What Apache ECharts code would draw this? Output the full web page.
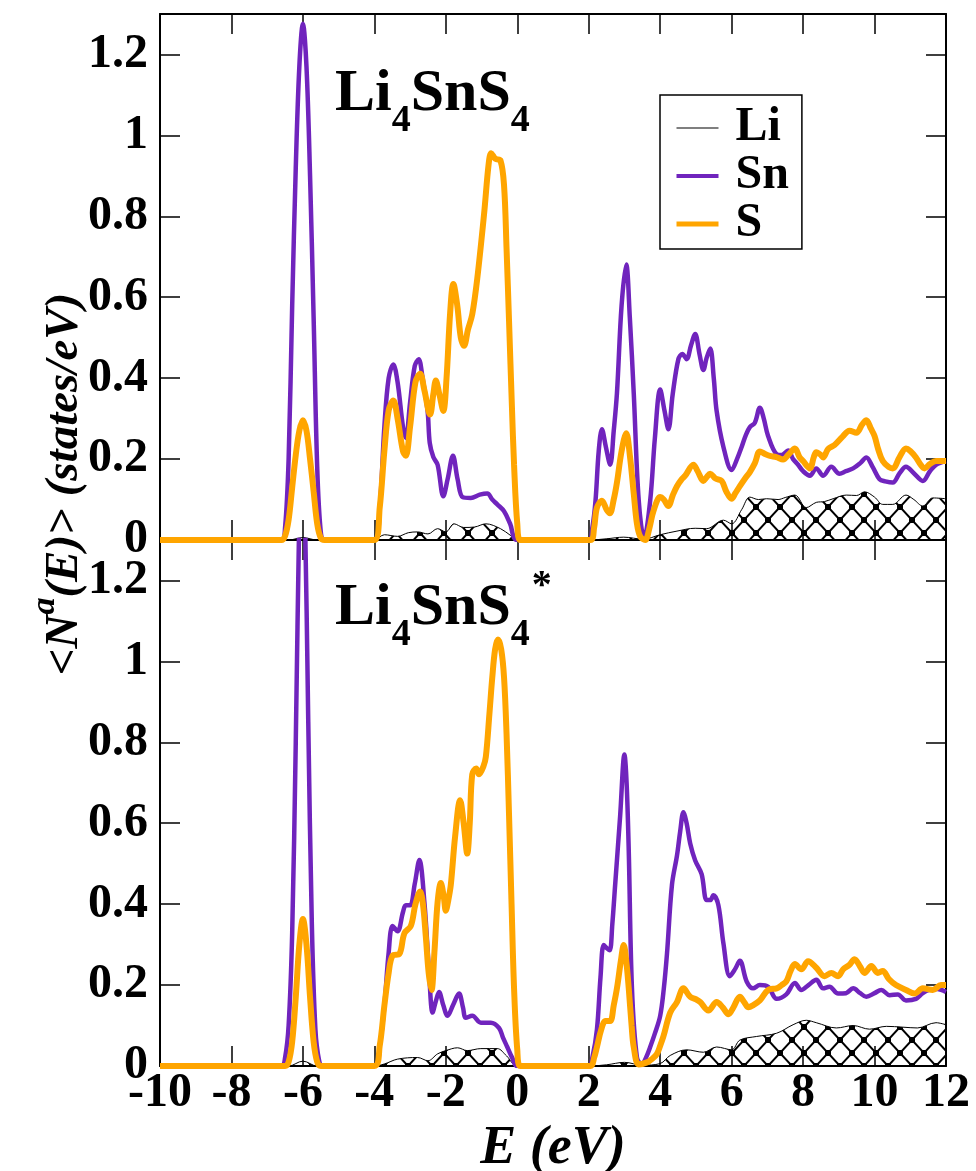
<!DOCTYPE html>
<html>
<head>
<meta charset="utf-8">
<script src="https://cdn.jsdelivr.net/npm/echarts@6.0.0/dist/echarts.min.js"></script>
<style>
  html, body { margin: 0; padding: 0; background: #fff; }
  #chart { width: 976px; height: 1171px; }
</style>
</head>
<body>
<div id="chart"></div>
<script>
// projected DOS, [E (eV), states/eV]
const liTop = [[-10,0],[-6.4,0],[-6.0,0.006],[-5.6,0],[-4.0,0],[-3.72,0.013],[-3.35,0.009],[-3.05,0.018],[-2.79,0.02],[-2.5,0.015],[-2.23,0.028],[-2.0,0.02],[-1.77,0.04],[-1.5,0.031],[-1.2,0.032],[-0.88,0.04],[-0.47,0.028],[-0.2,0.012],[0,0],
  [2.0,0],[2.5,0.003],[2.98,0.007],[3.53,0.002],[4.0,0.013],[4.47,0.022],[4.98,0.029],[5.3,0.028],[5.77,0.049],[6.0,0.04],[6.28,0.075],[6.51,0.106],[6.75,0.1],[6.98,0.102],[7.3,0.1],[7.5,0.105],[7.77,0.111],[8.09,0.08],[8.37,0.093],[8.6,0.095],[8.84,0.102],[9.21,0.111],[9.5,0.11],[9.72,0.119],[10.0,0.106],[10.23,0.088],[10.51,0.088],[10.88,0.111],[11.1,0.1],[11.35,0.084],[11.63,0.104],[12.0,0.102]];
const snTop = [[-10,0],[-6.6,0],[-6.5,0.03],[-6.4,0.2],[-6.3,0.58],[-6.2,0.92],[-6.1,1.17],[-6.0,1.276],[-5.9,1.17],[-5.8,0.9],[-5.7,0.55],[-5.6,0.18],[-5.5,0.02],[-5.4,0],
  [-4.0,0],[-3.85,0.08],[-3.72,0.28],[-3.6,0.4],[-3.47,0.434],[-3.35,0.39],[-3.2,0.28],[-3.12,0.252],[-3.0,0.34],[-2.87,0.43],[-2.76,0.447],[-2.65,0.4],[-2.51,0.319],[-2.45,0.24],[-2.35,0.205],[-2.23,0.186],[-2.07,0.108],[-1.95,0.15],[-1.8,0.208],[-1.67,0.15],[-1.53,0.106],[-1.3,0.104],[-1.05,0.112],[-0.84,0.115],[-0.7,0.1],[-0.56,0.088],[-0.37,0.071],[-0.2,0.04],[0,0],
  [2.0,0],[2.1,0.03],[2.19,0.097],[2.28,0.22],[2.37,0.274],[2.48,0.23],[2.6,0.186],[2.7,0.27],[2.79,0.363],[2.92,0.58],[3.05,0.681],[3.15,0.55],[3.26,0.363],[3.4,0.097],[3.55,0.004],[3.72,0.097],[3.85,0.25],[4.0,0.372],[4.12,0.32],[4.23,0.274],[4.35,0.36],[4.51,0.447],[4.62,0.46],[4.74,0.447],[4.86,0.48],[4.98,0.509],[5.1,0.46],[5.21,0.42],[5.3,0.45],[5.4,0.473],[5.5,0.4],[5.58,0.319],[5.77,0.23],[6.0,0.173],[6.15,0.2],[6.28,0.23],[6.4,0.26],[6.51,0.279],[6.65,0.29],[6.79,0.327],[6.9,0.3],[7.02,0.257],[7.26,0.212],[7.4,0.21],[7.58,0.221],[7.72,0.2],[7.86,0.186],[8.0,0.17],[8.19,0.159],[8.37,0.177],[8.56,0.159],[8.79,0.181],[9.02,0.164],[9.2,0.17],[9.4,0.177],[9.6,0.19],[9.77,0.204],[9.95,0.18],[10.14,0.15],[10.3,0.145],[10.51,0.142],[10.7,0.165],[10.88,0.181],[11.1,0.165],[11.35,0.146],[11.55,0.17],[11.72,0.186],[12.0,0.195]];
const sTop = [[-10,0],[-6.6,0],[-6.5,0.01],[-6.4,0.05],[-6.3,0.13],[-6.2,0.21],[-6.1,0.27],[-6.0,0.296],[-5.9,0.27],[-5.8,0.2],[-5.7,0.12],[-5.6,0.04],[-5.5,0.005],[-5.4,0],
  [-4.0,0],[-3.85,0.08],[-3.72,0.22],[-3.6,0.32],[-3.47,0.345],[-3.35,0.3],[-3.2,0.22],[-3.12,0.208],[-3.0,0.28],[-2.85,0.39],[-2.72,0.411],[-2.6,0.37],[-2.44,0.31],[-2.35,0.36],[-2.28,0.394],[-2.18,0.36],[-2.07,0.319],[-1.98,0.4],[-1.88,0.56],[-1.79,0.633],[-1.68,0.58],[-1.58,0.5],[-1.49,0.48],[-1.38,0.52],[-1.26,0.558],[-1.12,0.646],[-0.93,0.805],[-0.8,0.93],[-0.73,0.956],[-0.61,0.942],[-0.47,0.938],[-0.37,0.876],[-0.3,0.72],[-0.23,0.54],[-0.15,0.33],[-0.09,0.186],[0,0.04],[0.09,0],
  [2.05,0],[2.15,0.03],[2.23,0.08],[2.37,0.097],[2.5,0.075],[2.59,0.066],[2.7,0.1],[2.79,0.142],[2.92,0.22],[3.05,0.264],[3.15,0.21],[3.26,0.115],[3.35,0.04],[3.44,0.009],[3.58,0],[3.7,0.03],[3.81,0.071],[4.0,0.106],[4.1,0.1],[4.23,0.084],[4.35,0.11],[4.47,0.133],[4.6,0.15],[4.7,0.159],[4.93,0.186],[5.05,0.17],[5.21,0.146],[5.3,0.155],[5.4,0.164],[5.55,0.152],[5.72,0.146],[5.85,0.12],[6.0,0.102],[6.1,0.115],[6.23,0.133],[6.4,0.155],[6.51,0.168],[6.65,0.19],[6.79,0.219],[6.95,0.212],[7.07,0.208],[7.25,0.205],[7.44,0.199],[7.6,0.212],[7.77,0.226],[7.9,0.205],[8.0,0.195],[8.19,0.177],[8.3,0.205],[8.37,0.217],[8.5,0.21],[8.56,0.204],[8.7,0.225],[8.88,0.235],[9.1,0.255],[9.3,0.27],[9.49,0.265],[9.65,0.285],[9.77,0.296],[9.9,0.275],[10.0,0.257],[10.1,0.225],[10.23,0.195],[10.4,0.18],[10.51,0.177],[10.7,0.205],[10.88,0.226],[11.0,0.22],[11.16,0.204],[11.3,0.185],[11.4,0.177],[11.55,0.188],[11.72,0.195],[12.0,0.195]];

const liBot = [[-10,0],[-6.4,0],[-6.0,0.012],[-5.6,0],[-4.0,0],[-3.72,0.005],[-3.35,0.017],[-2.79,0.021],[-2.5,0.013],[-2.23,0.03],[-2.0,0.038],[-1.67,0.045],[-1.4,0.038],[-1.02,0.043],[-0.56,0.043],[-0.3,0.025],[0,0],
  [2.0,0],[2.5,0.003],[3.0,0.009],[3.5,0.002],[4.0,0.006],[4.28,0.026],[4.74,0.04],[5.21,0.034],[5.58,0.047],[6.0,0.04],[6.23,0.064],[6.7,0.073],[7.26,0.081],[7.72,0.102],[8.09,0.113],[8.37,0.107],[8.93,0.094],[9.4,0.1],[9.86,0.091],[10.33,0.098],[10.79,0.096],[11.2,0.094],[11.72,0.107],[12.0,0.102]];
const snBot = [[-10,0],[-6.6,0],[-6.5,0.02],[-6.4,0.1],[-6.3,0.33],[-6.2,0.8],[-6.1,1.37],[-6.03,1.59],[-5.95,1.4],[-5.85,0.85],[-5.75,0.35],[-5.65,0.09],[-5.55,0.015],[-5.45,0],
  [-4.0,0],[-3.85,0.05],[-3.72,0.149],[-3.6,0.28],[-3.49,0.346],[-3.35,0.333],[-3.2,0.38],[-3.12,0.397],[-3.0,0.397],[-2.87,0.45],[-2.74,0.509],[-2.6,0.405],[-2.47,0.235],[-2.37,0.132],[-2.28,0.16],[-2.19,0.183],[-2.07,0.15],[-1.95,0.124],[-1.8,0.15],[-1.63,0.179],[-1.52,0.145],[-1.44,0.119],[-1.26,0.124],[-1.02,0.107],[-0.74,0.107],[-0.51,0.094],[-0.4,0.07],[-0.28,0.047],[-0.14,0.02],[0,0],
  [2.0,0],[2.1,0.02],[2.23,0.09],[2.33,0.22],[2.42,0.299],[2.52,0.29],[2.59,0.286],[2.66,0.35],[2.74,0.448],[2.88,0.619],[3.0,0.77],[3.06,0.7],[3.12,0.533],[3.21,0.192],[3.35,0.021],[3.49,0.004],[3.6,0.02],[3.72,0.047],[3.85,0.08],[4.0,0.124],[4.1,0.19],[4.19,0.277],[4.33,0.448],[4.47,0.52],[4.56,0.58],[4.65,0.627],[4.74,0.6],[4.84,0.55],[4.98,0.508],[5.16,0.474],[5.3,0.41],[5.4,0.41],[5.49,0.422],[5.63,0.397],[5.77,0.303],[5.95,0.222],[6.1,0.24],[6.23,0.26],[6.42,0.209],[6.6,0.192],[6.79,0.2],[7.02,0.196],[7.26,0.166],[7.53,0.177],[7.77,0.205],[7.95,0.188],[8.15,0.2],[8.37,0.213],[8.56,0.192],[8.74,0.196],[8.98,0.179],[9.2,0.18],[9.4,0.192],[9.6,0.18],[9.77,0.171],[10.0,0.18],[10.19,0.188],[10.42,0.175],[10.65,0.177],[10.88,0.162],[11.16,0.166],[11.35,0.18],[11.53,0.188],[11.75,0.19],[12.0,0.183]];
const sBot = [[-10,0],[-6.5,0],[-6.4,0.01],[-6.3,0.06],[-6.2,0.17],[-6.1,0.3],[-6.0,0.363],[-5.9,0.3],[-5.8,0.17],[-5.7,0.06],[-5.6,0.01],[-5.5,0],
  [-4.0,0],[-3.85,0.05],[-3.72,0.149],[-3.6,0.23],[-3.49,0.273],[-3.3,0.277],[-3.16,0.328],[-2.98,0.346],[-2.85,0.4],[-2.72,0.431],[-2.64,0.4],[-2.56,0.32],[-2.48,0.23],[-2.4,0.188],[-2.32,0.28],[-2.23,0.405],[-2.14,0.452],[-2.06,0.42],[-2.0,0.384],[-1.93,0.41],[-1.86,0.448],[-1.74,0.567],[-1.6,0.657],[-1.5,0.6],[-1.4,0.525],[-1.33,0.6],[-1.26,0.721],[-1.15,0.735],[-1.07,0.721],[-0.95,0.74],[-0.88,0.764],[-0.78,0.87],[-0.7,0.96],[-0.62,1.03],[-0.54,1.054],[-0.45,1.03],[-0.37,0.96],[-0.3,0.82],[-0.23,0.619],[-0.16,0.4],[-0.09,0.192],[0,0.04],[0.09,0],
  [2.05,0],[2.15,0.02],[2.23,0.047],[2.35,0.09],[2.47,0.111],[2.6,0.111],[2.7,0.15],[2.79,0.192],[2.9,0.26],[2.98,0.299],[3.05,0.26],[3.12,0.192],[3.2,0.1],[3.26,0.047],[3.4,0.004],[3.63,0.009],[3.78,0.018],[3.91,0.03],[4.0,0.05],[4.09,0.073],[4.28,0.132],[4.47,0.158],[4.65,0.192],[4.84,0.171],[5.0,0.165],[5.12,0.158],[5.35,0.137],[5.58,0.158],[5.75,0.145],[5.91,0.128],[6.05,0.145],[6.23,0.171],[6.35,0.158],[6.47,0.145],[6.6,0.15],[6.79,0.162],[7.02,0.188],[7.26,0.192],[7.4,0.2],[7.53,0.209],[7.65,0.235],[7.77,0.252],[7.95,0.239],[8.14,0.259],[8.37,0.243],[8.6,0.222],[8.79,0.23],[8.98,0.222],[9.12,0.239],[9.3,0.25],[9.44,0.264],[9.6,0.245],[9.72,0.23],[9.91,0.247],[10.09,0.23],[10.23,0.235],[10.4,0.215],[10.6,0.2],[10.88,0.188],[11.12,0.179],[11.35,0.192],[11.63,0.188],[11.86,0.2],[12.0,0.2]];

const xTicks = { min: -10, max: 12, step: 2 };
const yTicks = { min: 0, max: 1.3, step: 0.2 };

const FONT = 'Liberation Serif';
const PURPLE = '#7024bd';
const ORANGE = '#ffa500';

// cross-hatch with black squares at the crossings, like the xmgrace fill
function hatch() {
  const w = 24, h = 26;
  const c = document.createElement('canvas');
  c.width = w; c.height = h;
  const g = c.getContext('2d');
  g.strokeStyle = '#000';
  g.lineWidth = 2;
  g.beginPath();
  g.moveTo(0, 0); g.lineTo(w, h);
  g.moveTo(w, 0); g.lineTo(0, h);
  g.stroke();
  g.fillStyle = '#000';
  g.fillRect(w / 2 - 3, h / 2 - 3, 6, 6);
  [[0, 0], [w, 0], [0, h], [w, h]].forEach(p => g.fillRect(p[0] - 3, p[1] - 3, 6, 6));
  return c;
}
const hatchImg = hatch();

function xAx(grid, pos, labels) {
  return {
    type: 'value', gridIndex: grid, position: pos,
    min: xTicks.min, max: xTicks.max, interval: xTicks.step,
    axisLine: { show: true, onZero: false, lineStyle: { color: '#000', width: 2 } },
    axisTick: { show: true, inside: true, length: 20, lineStyle: { color: '#000', width: 1.5 } },
    axisLabel: { show: labels, margin: 4, color: '#000', fontFamily: FONT, fontWeight: 'bold', fontSize: 48 },
    splitLine: { show: false }
  };
}
function yAx(grid, pos, labels) {
  return {
    type: 'value', gridIndex: grid, position: pos,
    min: yTicks.min, max: yTicks.max, interval: yTicks.step,
    axisLine: { show: true, onZero: false, lineStyle: { color: '#000', width: 2 } },
    axisTick: { show: true, inside: true, length: 20, lineStyle: { color: '#000', width: 1.5 } },
    axisLabel: { show: labels, showMaxLabel: false, margin: 12, color: '#000', fontFamily: FONT, fontWeight: 'bold', fontSize: 48,
      formatter: v => (Math.abs(v - 1.3) < 1e-6 ? '' : String(Math.round(v * 10) / 10)) },
    splitLine: { show: false }
  };
}

function series(name, data, ax, color, width, area) {
  const s = {
    name, type: 'line', data, xAxisIndex: ax, yAxisIndex: ax,
    smooth: 0.35, showSymbol: false, symbol: 'none', animation: false,
    lineStyle: { color, width }, itemStyle: { color }
  };
  if (area) s.areaStyle = { color: { image: hatchImg, repeat: 'repeat' }, opacity: 1 };
  return s;
}

const titleRich = {
  m: { fontFamily: FONT, fontWeight: 'bold', fontSize: 60, lineHeight: 70, padding: [16, 0, 0, 0], verticalAlign: 'top', color: '#000' },
  s: { fontFamily: FONT, fontWeight: 'bold', fontSize: 38, lineHeight: 38, padding: [54, 0, 0, 0], verticalAlign: 'top', color: '#000' },
  a: { fontFamily: FONT, fontWeight: 'bold', fontSize: 40, lineHeight: 40, padding: [5, 0, 0, 2], verticalAlign: 'top', color: '#000' }
};
const axRich = {
  i: { fontFamily: FONT, fontWeight: 'bold', fontStyle: 'italic', fontSize: 47, lineHeight: 54, padding: [13, 0, 0, 0], verticalAlign: 'top', color: '#000' },
  u: { fontFamily: FONT, fontWeight: 'bold', fontStyle: 'italic', fontSize: 34, lineHeight: 32, verticalAlign: 'top', color: '#000' }
};

const chart = echarts.init(document.getElementById('chart'));
chart.setOption({
  backgroundColor: '#fff',
  animation: false,
  grid: [
    { left: 160, top: 14, width: 786, height: 526 },
    { left: 160, top: 540, width: 786, height: 526 }
  ],
  xAxis: [xAx(0, 'bottom', false), xAx(0, 'top', false), xAx(1, 'bottom', true), xAx(1, 'top', false)],
  yAxis: [yAx(0, 'left', true), yAx(0, 'right', false), yAx(1, 'left', true), yAx(1, 'right', false)],
  legend: {
    left: 660, top: 95, orient: 'vertical',
    data: [
      { name: 'Li', lineStyle: { width: 1.2 } },
      { name: 'Sn', lineStyle: { width: 4 } },
      { name: 'S', lineStyle: { width: 5 } }
    ],
    itemWidth: 42, itemHeight: 2, itemGap: 0,
    itemStyle: { opacity: 0 },
    padding: [9, 13, 1, 14],
    borderColor: '#000', borderWidth: 1.5, borderRadius: 0, backgroundColor: '#fff',
    textStyle: { fontFamily: FONT, fontWeight: 'bold', fontSize: 48, lineHeight: 42, color: '#000', padding: [0, 0, 0, 12] }
  },
  graphic: [
    { type: 'text', left: 335, top: 48, z: 50, style: { text: '{m|Li}{s|4}{m|SnS}{s|4}', rich: titleRich } },
    { type: 'text', left: 335, top: 562, z: 50, style: { text: '{m|Li}{s|4}{m|SnS}{s|4}{a|*}', rich: titleRich } },
    { type: 'text', x: 553, y: 1149, z: 50, style: { text: 'E (eV)', fontFamily: FONT, fontWeight: 'bold', fontStyle: 'italic', fontSize: 54, align: 'center', verticalAlign: 'middle', fill: '#000' } },
    { type: 'text', x: 55, y: 484, rotation: Math.PI / 2, z: 50, style: { text: '{i|<N}{u|a}{i|(E)> (states/eV)}', rich: axRich, align: 'center', verticalAlign: 'middle' } }
  ],
  series: [
    series('Li', liTop, 0, '#000', 1, true),
    series('Sn', snTop, 0, PURPLE, 4.5, false),
    series('S', sTop, 0, ORANGE, 6, false),
    series('Li', liBot, 2, '#000', 1, true),
    series('Sn', snBot, 2, PURPLE, 4.5, false),
    series('S', sBot, 2, ORANGE, 6, false)
  ]
});
</script>
</body>
</html>
